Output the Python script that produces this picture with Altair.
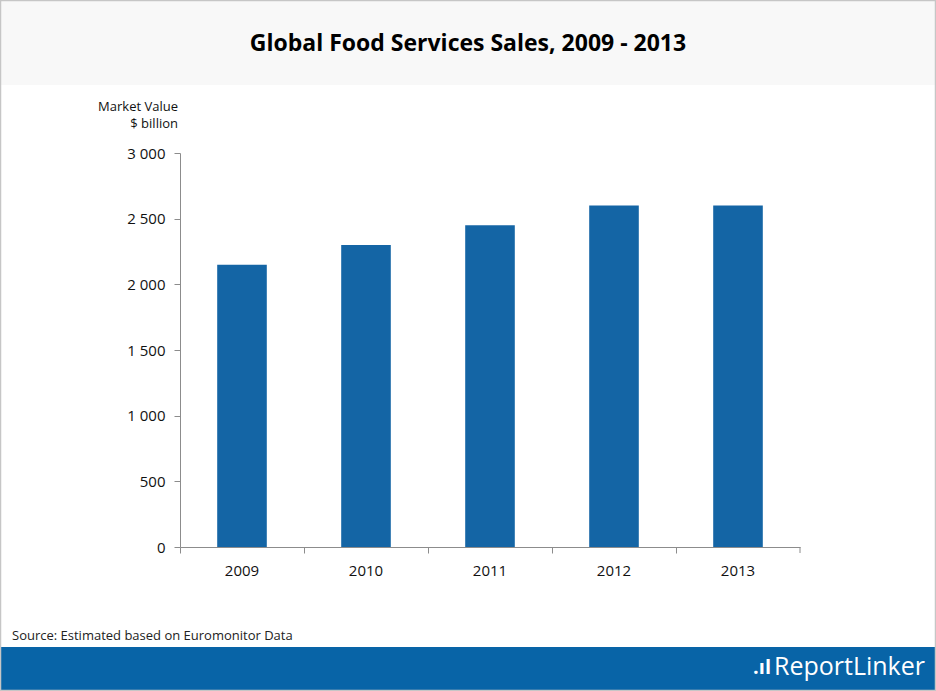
import altair as alt
import pandas as pd

years = ["2009", "2010", "2011", "2012", "2013"]
values = [2150, 2300, 2450, 2600, 2600]
y_ticks = [0, 500, 1000, 1500, 2000, 2500, 3000]

title_text = "Global Food Services Sales, 2009 - 2013"
y_title_lines = ["Market Value", "$ billion"]
source_text = "Source: Estimated based on Euromonitor Data"
logo_text = "ReportLinker"

df = pd.DataFrame({"year": years, "value": values})
one = pd.DataFrame({"k": [0]})

FONT = "Open Sans"
W, H = 620, 394
PL, PT = 180, 153
TOTAL_W, TOTAL_H = 936, 691

base1 = alt.Chart(one)

title_band = base1.mark_rect(color="#f8f8f8").encode(
    x=alt.value(-PL), x2=alt.value(TOTAL_W - PL),
    y=alt.value(-PT), y2=alt.value(85 - PT))
footer_band = base1.mark_rect(color="#0864a7").encode(
    x=alt.value(-PL), x2=alt.value(TOTAL_W - PL),
    y=alt.value(647 - PT), y2=alt.value(TOTAL_H - PT))
border = base1.mark_rect(fill=None, stroke="#c6c6c6", strokeWidth=1.5).encode(
    x=alt.value(-PL + 0.5), x2=alt.value(TOTAL_W - PL - 0.5),
    y=alt.value(-PT + 0.5), y2=alt.value(TOTAL_H - PT - 0.5))

bars = alt.Chart(df).mark_bar(color="#1465a5", width=alt.RelativeBandSize(0.4)).encode(
    x=alt.X("year:N", sort=years, title=None,
            scale=alt.Scale(paddingInner=0, paddingOuter=0),
            axis=alt.Axis(bandPosition=0, labelAngle=0, labelFont=FONT, labelFontSize=15,
                          labelColor="#111", labelPadding=10, tickSize=6, tickColor="#8c8c8c",
                          domainColor="#8c8c8c", labelBound=False)),
    y=alt.Y("value:Q", title=None,
            scale=alt.Scale(domain=[0, 3000], nice=False),
            axis=alt.Axis(values=y_ticks, grid=False, labelFont=FONT, labelFontSize=15,
                          labelColor="#111", labelPadding=9, tickSize=6, tickColor="#8c8c8c",
                          domainColor="#8c8c8c",
                          labelExpr="replace(format(datum.value, ','), ',', ' ')")),
)

end_tick = base1.mark_rule(color="#8c8c8c").encode(
    x=alt.value(W), y=alt.value(H), y2=alt.value(H + 6))

title = base1.mark_text(text=title_text, font=FONT, fontSize=23, fontWeight="bold",
                        color="#000", align="center", baseline="middle").encode(
    x=alt.value(468 - PL), y=alt.value(44 - PT))

ytitle1 = base1.mark_text(text=y_title_lines[0], font=FONT, fontSize=13, color="#111",
                          align="right", baseline="middle").encode(
    x=alt.value(-2), y=alt.value(107 - PT))
ytitle2 = base1.mark_text(text=y_title_lines[1], font=FONT, fontSize=13, color="#111",
                          align="right", baseline="middle").encode(
    x=alt.value(-2), y=alt.value(124 - PT))

source = base1.mark_text(text=source_text, font=FONT, fontSize=13, color="#222",
                         align="left", baseline="middle").encode(
    x=alt.value(12 - PL), y=alt.value(636 - PT))

logo = base1.mark_text(text=logo_text, font=FONT, fontSize=25, color="white",
                       align="right", baseline="middle").encode(
    x=alt.value(925 - PL), y=alt.value(667 - PT))
logo_icon = base1.mark_text(text=".ıl", font=FONT, fontSize=20, fontWeight="bold", color="white",
                            align="right", baseline="middle").encode(
    x=alt.value(771 - PL), y=alt.value(668 - PT))

chart = alt.layer(
    title_band, footer_band, bars, end_tick, title, ytitle1, ytitle2, source, logo, logo_icon, border
).properties(
    width=W, height=H,
    autosize=alt.AutoSizeParams(type="none"),
    padding={"left": PL, "top": PT, "right": TOTAL_W - PL - W, "bottom": TOTAL_H - PT - H},
    background="white",
).configure_view(stroke=None)

chart.save("out.html", embed_options={"renderer": "svg", "actions": False})
